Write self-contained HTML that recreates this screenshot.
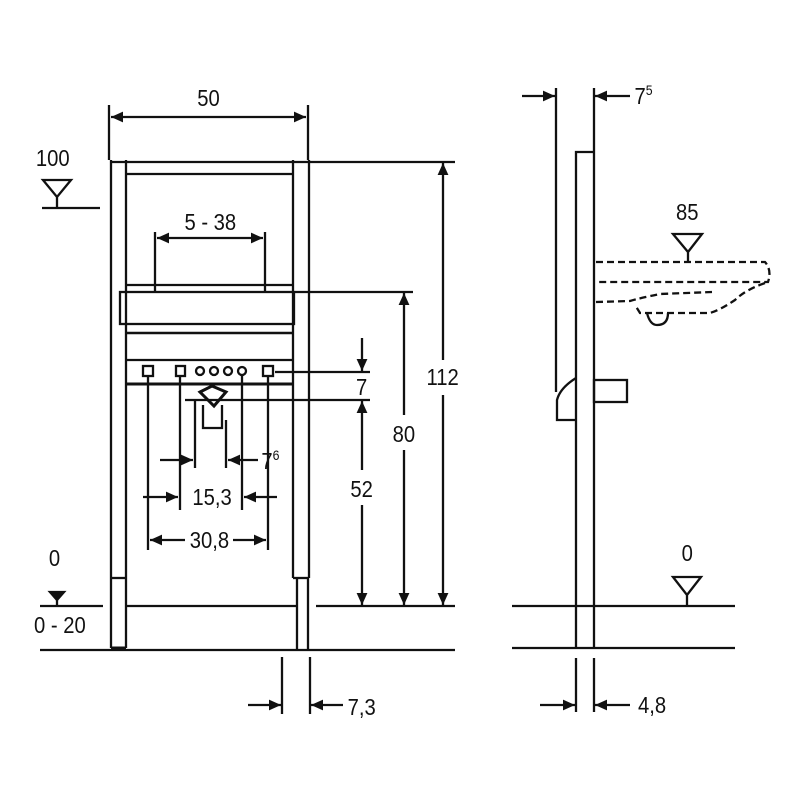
<!DOCTYPE html>
<html><head><meta charset="utf-8"><style>
html,body{margin:0;padding:0;background:#fff;}
svg{display:block}
text{font-family:"Liberation Sans",sans-serif;fill:#111;}
</style></head><body>
<svg width="800" height="800" viewBox="0 0 800 800" xmlns="http://www.w3.org/2000/svg">
<defs>
<marker id="a" viewBox="0 0 10 10" refX="10" refY="5" markerWidth="14" markerHeight="12" markerUnits="userSpaceOnUse" orient="auto-start-reverse">
<path d="M0,0.5 L10,5 L0,9.5 z" fill="#111"/></marker>
</defs>
<g stroke="#111" stroke-width="2.3" fill="none">
<line x1="109" y1="105" x2="109" y2="160"/>
<line x1="308" y1="105" x2="308" y2="160"/>
<line x1="111" y1="117" x2="306" y2="117" marker-start="url(#a)" marker-end="url(#a)"/>
<line x1="111" y1="160" x2="111" y2="648"/>
<line x1="126" y1="160" x2="126" y2="648"/>
<line x1="111" y1="578" x2="126" y2="578"/>
<line x1="111" y1="648" x2="126" y2="648" stroke-width="3"/>
<line x1="293" y1="160" x2="293" y2="578"/>
<line x1="309" y1="160" x2="309" y2="578"/>
<line x1="293" y1="578" x2="309" y2="578"/>
<line x1="297" y1="578" x2="297" y2="650"/>
<line x1="308" y1="578" x2="308" y2="650"/>
<line x1="111" y1="162" x2="455" y2="162"/>
<line x1="126" y1="174" x2="293" y2="174"/>
<line x1="155" y1="232" x2="155" y2="292"/>
<line x1="265" y1="232" x2="265" y2="292"/>
<line x1="157" y1="238" x2="263" y2="238" marker-start="url(#a)" marker-end="url(#a)"/>
<line x1="126" y1="285" x2="293" y2="285"/>
<rect x="120" y="292" width="174" height="32"/>
<line x1="126" y1="333" x2="293" y2="333" stroke-width="2.5"/>
<line x1="126" y1="360" x2="293" y2="360"/>
<line x1="126" y1="384" x2="293" y2="384" stroke-width="3"/>
<rect x="143" y="366" width="10" height="10"/>
<rect x="176" y="366" width="9" height="10"/>
<rect x="263" y="366" width="10" height="10"/>
<circle cx="200" cy="371" r="4"/><circle cx="214" cy="371" r="4"/><circle cx="228" cy="371" r="4"/><circle cx="242" cy="371" r="4"/>
<path d="M200,392 L212,386 L226,392 L214,406 Z" stroke-width="3"/>
<path d="M203,405 L203,428 L222,428 L222,405"/>
<line x1="148" y1="376" x2="148" y2="550"/>
<line x1="180" y1="376" x2="180" y2="510"/>
<line x1="195" y1="400" x2="195" y2="468"/>
<line x1="226" y1="420" x2="226" y2="468"/>
<line x1="242" y1="376" x2="242" y2="510"/>
<line x1="268" y1="376" x2="268" y2="550"/>
<line x1="160" y1="460" x2="193" y2="460" marker-end="url(#a)"/>
<line x1="258" y1="460" x2="228" y2="460" marker-end="url(#a)"/>
<line x1="143" y1="497" x2="178" y2="497" marker-end="url(#a)"/>
<line x1="277" y1="497" x2="244" y2="497" marker-end="url(#a)"/>
<line x1="150" y1="540" x2="185" y2="540" marker-start="url(#a)"/>
<line x1="233" y1="540" x2="266" y2="540" marker-end="url(#a)"/>
<line x1="275" y1="372" x2="370" y2="372"/>
<line x1="185" y1="400" x2="370" y2="400"/>
<line x1="362" y1="338" x2="362" y2="371" marker-end="url(#a)"/>
<line x1="362" y1="401" x2="362" y2="470" marker-start="url(#a)"/>
<line x1="362" y1="505" x2="362" y2="605" marker-end="url(#a)"/>
<line x1="295" y1="292" x2="413" y2="292"/>
<line x1="404" y1="293" x2="404" y2="415" marker-start="url(#a)"/>
<line x1="404" y1="450" x2="404" y2="605" marker-end="url(#a)"/>
<line x1="443" y1="163" x2="443" y2="360" marker-start="url(#a)"/>
<line x1="443" y1="395" x2="443" y2="605" marker-end="url(#a)"/>
<line x1="40" y1="606" x2="103" y2="606"/>
<line x1="127" y1="606" x2="296" y2="606"/>
<line x1="316" y1="606" x2="455" y2="606"/>
<line x1="40" y1="650" x2="455" y2="650"/>
<line x1="42" y1="208" x2="100" y2="208"/>
<path d="M43,180 L71,180 L57,197 Z M57,197 L57,208"/>
<path d="M50,592 L64,592 L57,600 Z" fill="#111"/>
<line x1="57" y1="600" x2="57" y2="606"/>
<line x1="282" y1="657" x2="282" y2="714"/>
<line x1="310" y1="657" x2="310" y2="714"/>
<line x1="248" y1="705" x2="281" y2="705" marker-end="url(#a)"/>
<line x1="343" y1="705" x2="311" y2="705" marker-end="url(#a)"/>
<line x1="556" y1="88" x2="556" y2="392"/>
<line x1="594" y1="88" x2="594" y2="648"/>
<line x1="522" y1="96" x2="555" y2="96" marker-end="url(#a)"/>
<line x1="630" y1="96" x2="595" y2="96" marker-end="url(#a)"/>
<path d="M594,152 L576,152 L576,648"/>
<path d="M576,378 Q560,388 557,400 L557,420 L576,420"/>
<rect x="594" y="380" width="33" height="22"/>
<line x1="512" y1="606" x2="735" y2="606"/>
<line x1="512" y1="648" x2="735" y2="648"/>
<line x1="576" y1="658" x2="576" y2="712"/>
<line x1="594" y1="658" x2="594" y2="712"/>
<line x1="540" y1="705" x2="575" y2="705" marker-end="url(#a)"/>
<line x1="630" y1="705" x2="595" y2="705" marker-end="url(#a)"/>
<path d="M673,234 L702,234 L688,252 Z M688,252 L688,262"/>
<path d="M673,577 L701,577 L687,595 Z M687,595 L687,606"/>
<g stroke-dasharray="7,4">
<path d="M596,262 L765,262 Q772,270 768,282 L596,282"/>
<path d="M596,302 L630,301 Q640,298 660,294 L712,292"/>
<path d="M765,283 Q745,290 735,300 Q720,310 710,313 L640,313 L635,305"/>
</g>
<path d="M647,313 Q650,325 657,325 Q668,325 668,313"/>
</g>
<g font-size="23">
<g transform="scale(0.88,1)">
<text x="237" y="106" text-anchor="middle">50</text>
<text x="60" y="166" text-anchor="middle">100</text>
<text x="239" y="230" text-anchor="middle">5 - 38</text>
<text x="411" y="395" text-anchor="middle">7</text>
<text x="411" y="497" text-anchor="middle">52</text>
<text x="459" y="442" text-anchor="middle">80</text>
<text x="503" y="385" text-anchor="middle">112</text>
<text x="241" y="505" text-anchor="middle">15,3</text>
<text x="238" y="548" text-anchor="middle">30,8</text>
<text x="297" y="469">7<tspan font-size="14" dy="-9">6</tspan></text>
<text x="62" y="566" text-anchor="middle">0</text>
<text x="68" y="633" text-anchor="middle">0 - 20</text>
<text x="395" y="715">7,3</text>
<text x="721" y="104">7<tspan font-size="14" dy="-9">5</tspan></text>
<text x="781" y="220" text-anchor="middle">85</text>
<text x="781" y="561" text-anchor="middle">0</text>
<text x="725" y="713">4,8</text>
</g>
</g>
</svg>
</body></html>
